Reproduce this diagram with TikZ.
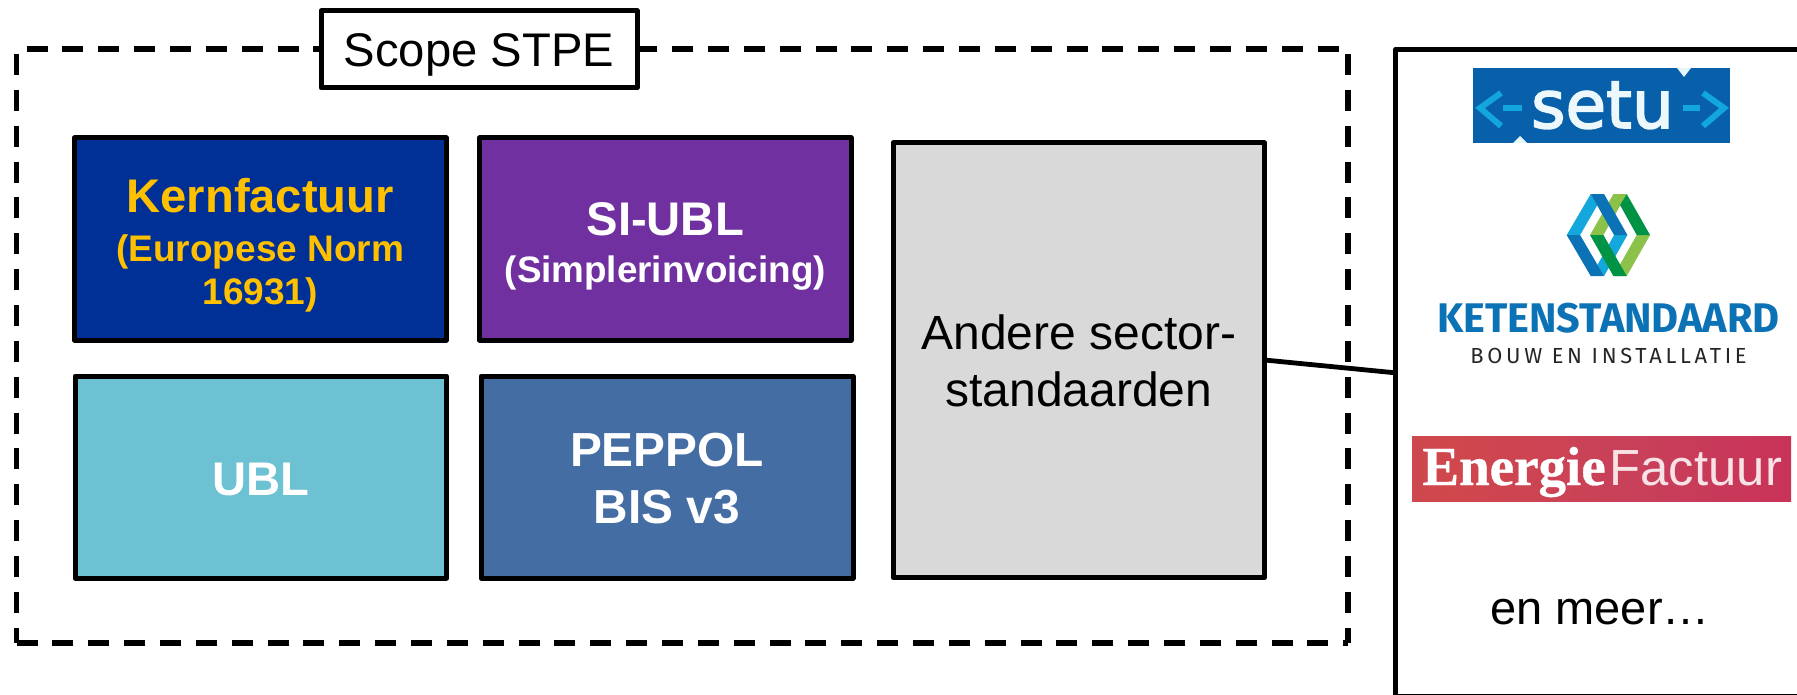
\documentclass[tikz,border=0pt]{standalone}
\usepackage{fontspec}
\setmainfont{Liberation Sans}
\newfontfamily\ketenfont{Fira Sans}
\newfontfamily\ketensub[LetterSpace=17]{Fira Sans}
\newfontfamily\energyfont[FakeBold=0.6]{Liberation Serif}
\newfontfamily\setufont[FakeBold=2.4]{DejaVu Sans}
\definecolor{kernblue}{HTML}{002F96}
\definecolor{kerngold}{HTML}{FFC000}
\definecolor{sipurple}{HTML}{7030A0}
\definecolor{ublcyan}{HTML}{6CC1D3}
\definecolor{peppolblue}{HTML}{446DA4}
\definecolor{sectorgrey}{HTML}{D9D9D9}
\definecolor{setublue}{HTML}{0860AB}
\definecolor{setucyan}{HTML}{12A6DC}
\definecolor{ketenblue}{HTML}{0B72B5}
\definecolor{ketenlight}{HTML}{14A7DC}
\definecolor{ketengreen}{HTML}{009245}
\definecolor{ketenlime}{HTML}{8CC24A}
\definecolor{energyA}{HTML}{BC505C}
\definecolor{energyB}{HTML}{D0474C}
\definecolor{energyC}{HTML}{C8405A}
\definecolor{energyD}{HTML}{C92F58}
\definecolor{energyE}{HTML}{CB4353}
\pgfdeclarehorizontalshading{energyshade}{100bp}{
  color(0bp)=(energyA); color(30bp)=(energyB); color(55bp)=(energyC);
  color(80bp)=(energyD); color(100bp)=(energyE)}
\tikzset{
  stdbox/.style={draw=black,line width=2.5pt,line join=round,inner sep=0pt,align=center,anchor=center},
  dashside/.style={line width=2.65pt,dash pattern=on 10.5pt off 7.43pt},
  bigtext/.style={font=\fontsize{23.6}{#1}\selectfont},
  kernbox/.style={stdbox,fill=kernblue,text=kerngold},
  conn/.style={line width=2.4pt},
  chev/.style={draw=setucyan,line width=3pt},
}
\newcommand{\Top}[1]{\rule{0pt}{#1pt}}
\newcommand{\Bot}[1]{\rule[-#1pt]{0pt}{0pt}}
\begin{document}
\begin{tikzpicture}[x=0.5pt,y=-0.5pt]
\useasboundingbox (0,0) rectangle (1797,695);
\clip (0,0) rectangle (1797,695);
% dashed scope frame
\coordinate (tl) at (26.6,49);
\coordinate (tr) at (1340,49);
\coordinate (lt) at (16.5,54);
\coordinate (lb) at (16.5,643);
\coordinate (rt) at (1348,54);
\coordinate (rb) at (1348,643);
\draw[dashside] (tl) -- (tr);
\draw[dashside] (lt) -- (lb);
\draw[dashside] (lb) -- (rb);
\draw[dashside] (rt) -- (rb);
% scope title
\node[stdbox,fill=white,minimum width=158pt,minimum height=38.5pt,bigtext=23.6] (scope) at (479,49.5)
  {\Top{22.2}Scope STPE\Bot{5}};
% boxes
\node[kernbox,minimum width=185.75pt,minimum height=101pt,font=\bfseries\fontsize{18.5}{21.65}\selectfont] (kern) at (260.25,239)
  {\Top{24.5}{\fontsize{23.6}{21.65}\selectfont Kernfactuur}\\[2.5pt](Europese Norm\\16931)\Bot{5}};
\node[stdbox,fill=sipurple,text=white,minimum width=185.75pt,minimum height=101pt,font=\bfseries\fontsize{18.4}{23.5}\selectfont] (si) at (665.25,239)
  {\Top{25.2}{\fontsize{23.6}{23.5}\selectfont SI-UBL}\\(Simplerinvoicing)\Bot{5}};
\node[stdbox,fill=ublcyan,text=white,minimum width=185.75pt,minimum height=101pt,font=\bfseries\fontsize{23.6}{28}\selectfont] (ubl) at (260.75,477)
  {\Top{23.7}UBL\Bot{5}};
\node[stdbox,fill=peppolblue,text=white,minimum width=186pt,minimum height=101pt,font=\bfseries\fontsize{23.9}{28.3}\selectfont] (peppol) at (667,477)
  {\Top{23}PEPPOL\\BIS v3\Bot{5}};
\node[stdbox,fill=sectorgrey,text=black,minimum width=185.75pt,minimum height=217.25pt,font=\fontsize{24}{28.7}\selectfont] (sector) at (1078.75,360.25)
  {\Top{22.75}Andere sector-\\standaarden\Bot{5}};
% right panel (runs off the picture)
\node[stdbox,fill=white,minimum width=520pt,minimum height=323.5pt] (panel) at (1915.7,372.75) {};
\coordinate (panelin) at (1394,372.7);
\draw[conn] (sector.east) -- (panelin);
% setu logo
\node[fill=setublue,minimum width=128.5pt,minimum height=37.5pt,inner sep=0pt] (setubg) at (1601.5,105.5) {};
\node[text=white!92!setucyan,inner sep=0pt,anchor=base,font=\setufont\fontsize{33}{33}\selectfont] (setu) at (1602.5,128) {setu};
\coordinate (cl1) at (1501,93); \coordinate (cl2) at (1480,108); \coordinate (cl3) at (1501,126);
\coordinate (cr1) at (1703,93); \coordinate (cr2) at (1724,108); \coordinate (cr3) at (1703,126);
\draw[chev] (cl1) -- (cl2) -- (cl3);
\draw[chev] (cr1) -- (cr2) -- (cr3);
\coordinate (dl1) at (1503,108); \coordinate (dl2) at (1522,108);
\coordinate (dr1) at (1683,108); \coordinate (dr2) at (1700,108);
\draw[chev] (dl1) -- (dl2);
\draw[chev] (dr1) -- (dr2);
\fill[white!90!setucyan] (1677,68) -- (1691,68) -- (1684,77) -- cycle;
\fill[white!90!setucyan] (1520,136) -- (1527,143) -- (1513,143) -- cycle;
% ketenstandaard mark
\begin{scope}[shift={(1400,0)},x=0.1667pt,y=-0.1667pt]
\fill[ketenlime] (680,582) -- (640,582) -- (570,705) -- (610,705) -- cycle;
\fill[ketenlight] (642,705) -- (682,705) -- (612,828) -- (592,795) -- cycle;
\fill[ketenlight] (500,705) -- (572,582) -- (592,615) -- (540,705) -- cycle;
\fill[ketenblue] (572,582) -- (612,582) -- (682,705) -- (642,705) -- cycle;
\fill[ketenblue] (500,705) -- (540,705) -- (612,828) -- (572,828) -- cycle;
\fill[ketenlime] (750,705) -- (710,705) -- (640,828) -- (680,828) -- cycle;
\fill[ketengreen] (750,705) -- (680,582) -- (660,615) -- (710,705) -- cycle;
\fill[ketengreen] (570,705) -- (610,705) -- (680,828) -- (640,828) -- cycle;
\end{scope}
\node[text=ketenblue,inner sep=0pt,anchor=base,font=\ketenfont\bfseries\fontsize{20.7}{21}\selectfont] (keten) at (1608.5,332) {KETENSTANDAARD};
\node[text=black!85,inner sep=0pt,anchor=base,font=\ketensub\fontsize{10.9}{12}\selectfont] (bouw) at (1608.5,363) {BOUW EN INSTALLATIE};
% energiefactuur
\node[shading=energyshade,minimum width=189.5pt,minimum height=32.5pt,inner sep=0pt] (energybg) at (1601.5,468.5) {};
\node[inner sep=0pt,anchor=base west,text=white] (energy) at (1422,485) {{\energyfont\bfseries\fontsize{27.5}{28}\selectfont Energie}\hspace{2pt}\textcolor{white!85!energyC}{\fontsize{25.4}{28}\selectfont Factuur}};
% en meer
\node[inner sep=0pt,anchor=base,font=\fontsize{23.5}{28}\selectfont] (meer) at (1600,624) {en meer…};
\end{tikzpicture}
\end{document}
